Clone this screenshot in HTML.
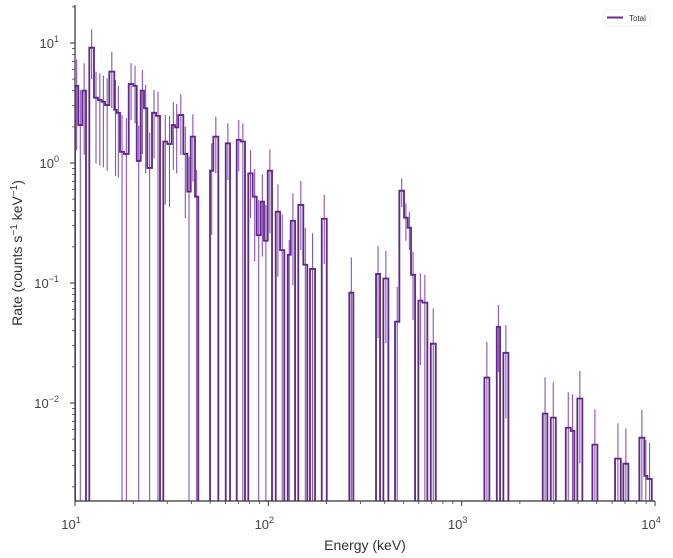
<!DOCTYPE html>
<html><head><meta charset="utf-8"><style>
html,body{margin:0;padding:0;background:#fff;}
svg{display:block;font-family:"Liberation Sans","DejaVu Sans",sans-serif;}
</style></head><body>
<svg id="chart" width="673" height="558" viewBox="0 0 673 558" xmlns="http://www.w3.org/2000/svg">
<defs><clipPath id="clip"><rect x="75" y="5" width="580" height="496"/></clipPath></defs>
<g id="errs" clip-path="url(#clip)"></g>
<g id="steps" clip-path="url(#clip)"></g>
<g id="axes"></g>
<text x="365" y="550" font-size="14" fill="#333" text-anchor="middle">Energy (keV)</text>
<text transform="translate(22,253) rotate(-90)" font-size="14" fill="#333" text-anchor="middle">Rate (counts s<tspan dy="-5" font-size="10">−1</tspan><tspan dy="5"> keV</tspan><tspan dy="-5" font-size="10">−1</tspan><tspan dy="5">)</tspan></text>
<g>
<rect x="604" y="10" width="46" height="16" rx="2" fill="#fff" stroke="#eee" stroke-width="0.8"/>
<line x1="607" y1="17.5" x2="623" y2="17.5" stroke="#6a2c91" stroke-width="2"/>
<text x="629" y="21" font-size="8" fill="#333">Total</text>
</g>
</svg>
<script>
const binLo = [10,10.40,10.91,11.86,12.54,13.15,13.74,14.30,15.05,15.97,16.43,17.09,17.93,18.96,20.03,20.86,21.87,22.75,23.66,25.02,26.24,28.62,30.02,31.64,32.91,34.23,36.34,38.10,39.68,41.77,49.94,51.94,60.21,68.63,71.98,78.78,83.01,87.07,91.32,94.99,99.29,109.2,115.0,126.0,130.6,142.9,151.7,164.3,188.9,262.4,360.7,393.5,452.3,476.2,503.5,526.2,547.3,597.0,626.2,692.1,1311,1519,1643,2627,2890,3455,3667,3967,4744,6216,6861,8301,8810,9131];
const binHi = [10.40,10.91,11.40,12.54,13.15,13.74,14.30,15.05,15.97,16.43,17.09,17.93,18.96,20.03,20.86,21.87,22.75,23.66,25.02,26.24,27.53,30.02,31.64,32.91,34.23,36.34,38.10,39.68,41.77,43.43,51.94,55.13,63.37,71.98,75.75,83.01,87.07,91.32,94.99,99.29,104.5,115.0,121.0,130.6,137.5,151.7,159.1,174.4,200.5,275.3,378.3,417.7,476.2,503.5,526.2,547.3,574.1,626.2,664.6,734.5,1391,1580,1745,2775,3068,3667,3828,4211,5036,6653,7281,8810,9131,9623];
const rate = [4.39,2.07,4.01,9.14,3.50,3.35,3.24,3.04,5.77,2.77,2.62,1.24,1.19,4.55,4.39,1.04,4.01,2.86,0.91,2.62,2.47,1.51,1.44,2.07,1.98,2.51,1.19,0.577,1.66,0.524,0.863,1.66,1.46,1.56,1.51,0.82,0.524,0.250,0.476,0.225,0.863,0.393,0.188,0.172,0.330,0.447,0.142,0.131,0.343,0.083,0.119,0.109,0.0476,0.588,0.350,0.289,0.117,0.0713,0.0686,0.0312,0.0163,0.0432,0.0262,0.00815,0.00755,0.00622,0.00585,0.0109,0.0045,0.00344,0.00312,0.00514,0.00247,0.00233];
const errHi = [7.31,4.06,6.78,13.0,5.77,5.59,5.35,5.08,8.47,4.92,4.41,2.51,2.36,6.78,6.47,2.05,5.96,4.47,1.80,4.06,3.93,2.51,2.47,3.21,3.11,3.74,2.01,1.13,2.55,0.875,1.46,2.43,2.14,2.28,2.14,1.28,0.886,0.492,0.805,0.447,1.30,0.664,0.373,0.228,0.559,0.708,0.287,0.259,0.541,0.163,0.203,0.185,0.0931,0.745,0.461,0.393,0.182,0.120,0.117,0.0615,0.0324,0.0656,0.0447,0.0164,0.0149,0.0123,0.0118,0.0185,0.00885,0.00678,0.00615,0.00875,0.00492,0.00465];
const errLo = [1.28,0,1.17,5.01,0.99,0.95,0.92,0.86,2.86,0.78,0.76,0,0,2.28,2.14,0,1.19,0.82,0,1.09,0,0.45,0.43,0.875,0.82,1.17,0.346,0,0.70,0,0.251,0.82,0.72,0.85,0,0.346,0.151,0,0.166,0,0.259,0.113,0,0,0.096,0.188,0,0,0.144,0,0.0348,0.0314,0,0.428,0.225,0.188,0.0492,0.0207,0,0,0,0.0182,0.00745,0,0,0,0,0.00314,0,0,0,0,0,0];
const xTickVals = [10,100,1000,10000];
const xTickExp = ["1","2","3","4"];
const yTickVals = [10,1,0.1,0.01];
const yTickExp = ["1","0","−1","−2"];

const NS = "http://www.w3.org/2000/svg";
const X0 = 75, X1 = 655, Y0 = 5, YB = 501;
function xs(e){ return X0 + (Math.log10(e) - 1) * 193.33; }
function ys(r){ return r <= 0 ? YB + 20 : 43 + (1 - Math.log10(r)) * 120; }
function mk(tag, attrs, parent){ const el = document.createElementNS(NS, tag); for (const k in attrs) el.setAttribute(k, attrs[k]); parent.appendChild(el); return el; }

const errG = document.getElementById('errs');
for (let i = 0; i < rate.length; i++) {
  const cx = xs(Math.sqrt(binLo[i] * binHi[i]));
  const l = mk('line', {x1: cx, x2: cx, y1: ys(errHi[i]), y2: ys(errLo[i]), stroke: '#8a52b3', 'stroke-width': 1.1}, errG);
  
  
}

let d = '';
const bottom = YB + 20;
for (let i = 0; i < rate.length; i++) {
  const xl = xs(binLo[i]), xr = xs(binHi[i]), y = ys(rate[i]);
  const contPrev = i > 0 && Math.abs(binLo[i] - binHi[i-1]) / binLo[i] < 0.002;
  if (!contPrev) d += 'M' + xl.toFixed(2) + ',' + bottom + ' ';
  d += 'L' + xl.toFixed(2) + ',' + y.toFixed(2) + ' L' + xr.toFixed(2) + ',' + y.toFixed(2) + ' ';
  const contNext = i < rate.length - 1 && Math.abs(binLo[i+1] - binHi[i]) / binHi[i] < 0.002;
  if (!contNext) d += 'L' + xr.toFixed(2) + ',' + bottom + ' ';
}
const stepPath = mk('path', {d: d, fill: 'none', stroke: '#5f2787', 'stroke-width': 1.8, 'stroke-linejoin': 'miter'}, document.getElementById('steps'));



const ax = document.getElementById('axes');
const ls = mk('line', {x1: X0, x2: X0, y1: Y0, y2: YB, stroke: '#333', 'stroke-width': 1.2}, ax);


const bs = mk('line', {x1: X0, x2: X1, y1: YB, y2: YB, stroke: '#333', 'stroke-width': 1.2}, ax);



for (let i = 0; i < xTickVals.length; i++) {
  const x = xs(xTickVals[i]);
  mk('line', {x1: x, x2: x, y1: YB, y2: YB + 5, stroke: '#333', 'stroke-width': 1}, ax);
  const t = mk('text', {x: x - 4, y: 529, 'font-size': 13, fill: '#444', 'text-anchor': 'middle'}, ax);
  
  
  t.textContent = '10';
  const s = mk('tspan', {dy: -6, 'font-size': 9}, t); s.textContent = xTickExp[i];
  if (i < xTickVals.length - 1) {
    for (let m = 2; m < 10; m++) {
      const xm = xs(xTickVals[i] * m);
      mk('line', {x1: xm, x2: xm, y1: YB, y2: YB + 3, stroke: '#444', 'stroke-width': 0.8}, ax);
    }
  }
}
for (let i = 0; i < yTickVals.length; i++) {
  const y = ys(yTickVals[i]);
  mk('line', {x1: X0 - 5, x2: X0, y1: y, y2: y, stroke: '#333', 'stroke-width': 1}, ax);
  const t = mk('text', {x: 59, y: y + 5, 'font-size': 13, fill: '#444', 'text-anchor': 'end'}, ax);
  
  
  t.textContent = '10';
  const s = mk('tspan', {dy: -6, 'font-size': 9}, t); s.textContent = yTickExp[i];
}
[0.001, 0.01, 0.1, 1, 10].forEach(function(dec){
  for (let m = 2; m < 10; m++) {
    const y = ys(dec * m);
    if (y < Y0 || y > YB) continue;
    mk('line', {x1: X0 - 3, x2: X0, y1: y, y2: y, stroke: '#444', 'stroke-width': 0.8}, ax);
  }
});
</script>
</body></html>
